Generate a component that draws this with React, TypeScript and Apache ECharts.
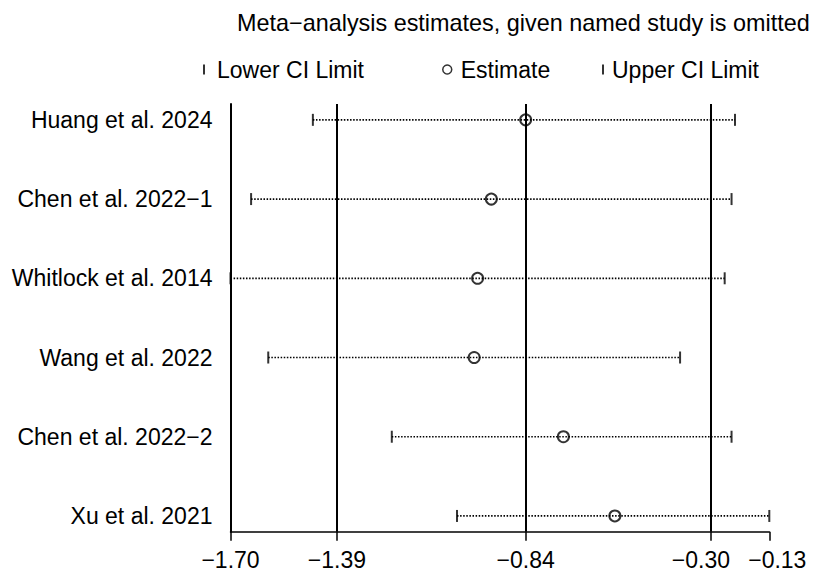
import React, { useEffect, useRef } from "react";
import * as echarts from "echarts";

// Leave-one-out sensitivity analysis: each row is the pooled estimate with the named study omitted
const studies = [
  "Huang et al. 2024",
  "Chen et al. 2022\u22121",
  "Whitlock et al. 2014",
  "Wang et al. 2022",
  "Chen et al. 2022\u22122",
  "Xu et al. 2021",
];
const estimate = [-0.84, -0.94, -0.98, -0.99, -0.73, -0.58];
const lowerCI = [-1.46, -1.64, -1.70, -1.59, -1.23, -1.04];
const upperCI = [-0.23, -0.24, -0.26, -0.39, -0.24, -0.13];

// Overall pooled estimate and its confidence limits (reference lines)
const pooled = [-1.39, -0.84, -0.3];
// x-axis tick positions
const xTicks = [-1.7, -1.39, -0.84, -0.3, -0.13];

const FONT = "'Liberation Sans', Arial, sans-serif";
const FS = 23;

const fmt = (v: number) => (v < 0 ? "\u2212" : "") + Math.abs(v).toFixed(2);

export default function App() {
  const ref = useRef<HTMLDivElement>(null);

  useEffect(() => {
    if (!ref.current) return;
    const chart = echarts.init(ref.current, undefined, { renderer: "svg" });

    const rows = studies.map((_, i) => i + 1);

    const legendBase = {
      top: 53,
      selectedMode: false,
      textStyle: { fontSize: FS, color: "#000", fontFamily: FONT },
    };

    // The two rightmost tick labels sit close together, so they are nudged apart
    const lastTick = xTicks[xTicks.length - 1];
    const prevTick = xTicks[xTicks.length - 2];

    chart.setOption({
      animation: false,
      backgroundColor: "#fff",
      textStyle: { fontFamily: FONT },
      title: {
        text: "Meta\u2212analysis estimates, given named study is omitted",
        left: 232,
        top: 6,
        textStyle: { fontSize: 23.4, fontWeight: "normal", color: "#000", fontFamily: FONT },
      },
      legend: [
        {
          ...legendBase,
          left: 198,
          data: ["Lower CI Limit"],
          icon: "rect",
          itemWidth: 2,
          itemHeight: 10,
          itemStyle: { color: "#000" },
          textStyle: { ...legendBase.textStyle, padding: [0, 0, 0, 7] },
        },
        {
          ...legendBase,
          left: 437,
          data: ["Estimate"],
          icon: "circle",
          itemWidth: 9,
          itemHeight: 9,
          itemStyle: { color: "rgba(0,0,0,0)", borderColor: "#000", borderWidth: 1.5 },
          textStyle: { ...legendBase.textStyle, padding: [0, 0, 0, 4] },
        },
        {
          ...legendBase,
          left: 597,
          data: ["Upper CI Limit"],
          icon: "rect",
          itemWidth: 2,
          itemHeight: 10,
          itemStyle: { color: "#000" },
          textStyle: { ...legendBase.textStyle, padding: [0, 0, 0, 3] },
        },
      ],
      grid: { left: 230.5, right: 43.7, top: 104, bottom: 42.2, containLabel: false },
      xAxis: {
        type: "value",
        min: -1.7,
        max: -0.13,
        splitLine: { show: false },
        axisLine: { show: true, lineStyle: { color: "#000", width: 1.5 } },
        axisTick: {
          show: true,
          customValues: xTicks,
          length: 9,
          lineStyle: { color: "#000", width: 1.5 },
        },
        axisLabel: {
          customValues: xTicks,
          formatter: (v: number) => {
            if (Math.abs(v - lastTick) < 1e-6) return "{r|" + fmt(v) + "}";
            if (Math.abs(v - prevTick) < 1e-6) return "{l|" + fmt(v) + "}";
            return fmt(v);
          },
          rich: {
            l: { fontSize: FS, color: "#000", fontFamily: FONT, padding: [0, 20, 0, 0] },
            r: { fontSize: FS, color: "#000", fontFamily: FONT, padding: [0, 0, 0, 16] },
          },
          fontSize: FS,
          color: "#000",
          fontFamily: FONT,
          margin: 17,
        },
      },
      yAxis: {
        type: "value",
        inverse: true,
        min: 0.8,
        max: 6.2,
        splitLine: { show: false },
        axisTick: { show: false },
        axisLine: { show: true, lineStyle: { color: "#000", width: 2 } },
        axisLabel: {
          customValues: rows,
          formatter: (v: number) => studies[Math.round(v) - 1] ?? "",
          fontSize: FS,
          color: "#000",
          fontFamily: FONT,
          margin: 18,
        },
      },
      series: [
        {
          type: "custom",
          name: "CI",
          data: rows.map((r, i) => [lowerCI[i], upperCI[i], r]),
          encode: { x: [0, 1], y: 2 },
          renderItem: (params: any, api: any) => {
            const p1 = api.coord([api.value(0), api.value(2)]);
            const p2 = api.coord([api.value(1), api.value(2)]);
            return {
              type: "line",
              shape: { x1: p1[0], y1: p1[1], x2: p2[0], y2: p2[1] },
              style: { stroke: "#000", lineWidth: 1.7, lineDash: [1.5, 1.6] },
            };
          },
          z: 2,
        },
        {
          type: "scatter",
          name: "Lower CI Limit",
          data: rows.map((r, i) => [lowerCI[i], r]),
          symbol: "rect",
          symbolSize: [2, 12],
          itemStyle: { color: "#000" },
          z: 3,
        },
        {
          type: "scatter",
          name: "Upper CI Limit",
          data: rows.map((r, i) => [upperCI[i], r]),
          symbol: "rect",
          symbolSize: [2, 12],
          itemStyle: { color: "#000" },
          z: 3,
        },
        {
          type: "scatter",
          name: "Estimate",
          data: rows.map((r, i) => [estimate[i], r]),
          symbol: "circle",
          symbolSize: 11,
          itemStyle: { color: "rgba(0,0,0,0)", borderColor: "#000", borderWidth: 2 },
          z: 4,
          markLine: {
            silent: true,
            symbol: "none",
            label: { show: false },
            lineStyle: { color: "#000", width: 2, type: "solid" },
            data: pooled.map((v) => ({ xAxis: v })),
          },
        },
      ],
    });

    return () => chart.dispose();
  }, []);

  return (
    <div
      ref={ref}
      style={{ position: "fixed", left: 0, top: 0, width: 813, height: 574 }}
    />
  );
}
